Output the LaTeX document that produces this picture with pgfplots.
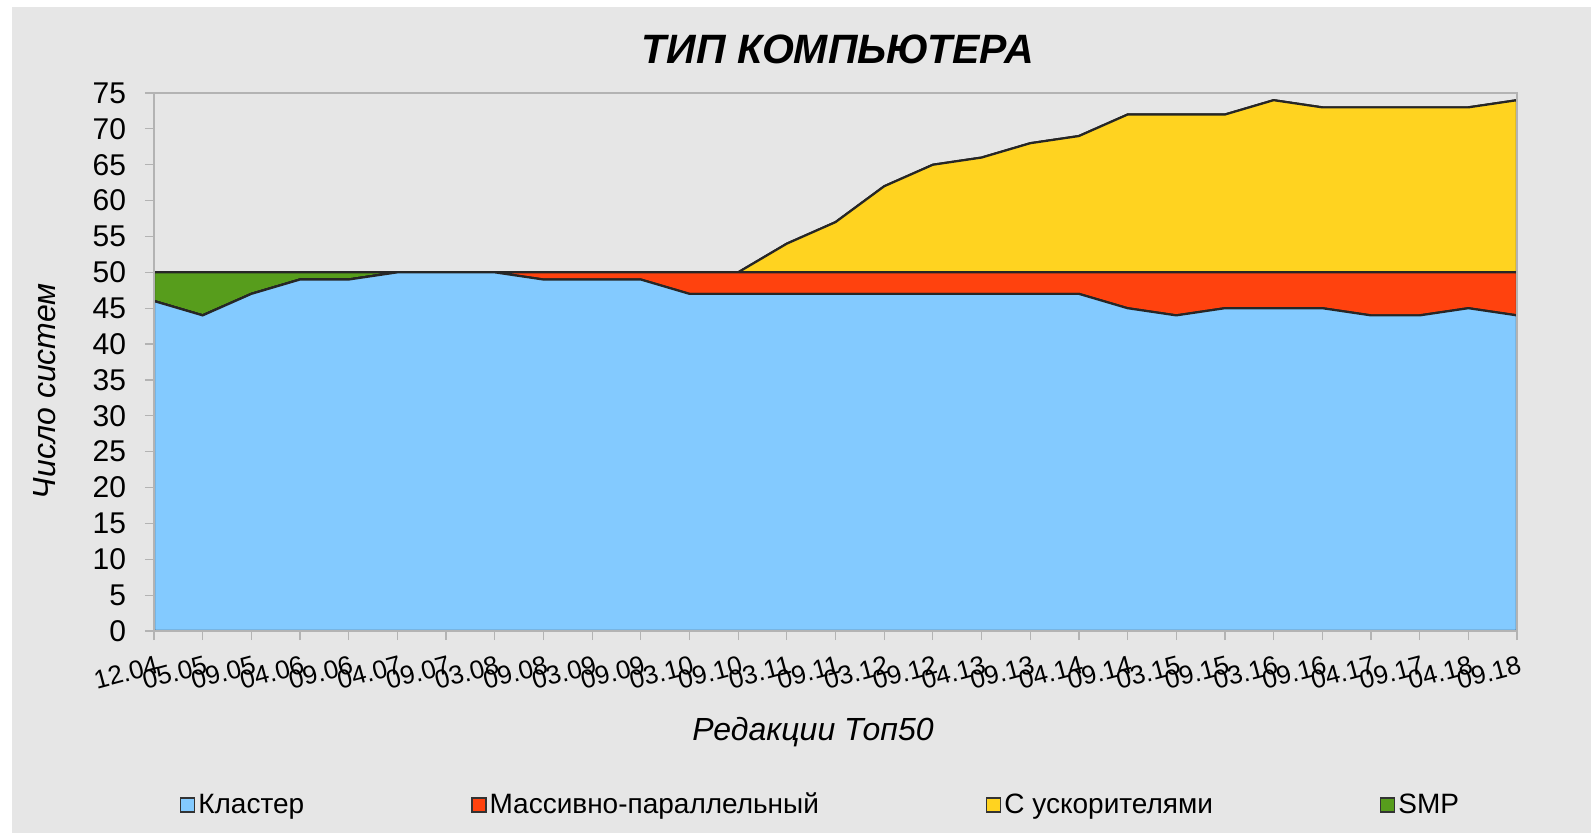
\documentclass[border=0pt]{standalone}
\usepackage{pgfplots}
\pgfplotsset{compat=1.18}
\usepackage{pgfplotstable}
\usepackage{fontspec}
\setmainfont{Liberation Sans}
\definecolor{cblue}{HTML}{83CAFF}
\definecolor{cred}{HTML}{FF420E}
\definecolor{cyel}{HTML}{FFD320}
\definecolor{cgreen}{HTML}{579D1C}
\definecolor{bg}{HTML}{E6E6E6}
\definecolor{axgray}{HTML}{B3B3B3}

\pgfplotstableread{
i blue red acc smp
0 46 0 0 4
1 44 0 0 6
2 47 0 0 3
3 49 0 0 1
4 49 0 0 1
5 50 0 0 0
6 50 0 0 0
7 50 0 0 0
8 49 1 0 0
9 49 1 0 0
10 49 1 0 0
11 47 3 0 0
12 47 3 0 0
13 47 3 4 0
14 47 3 7 0
15 47 3 12 0
16 47 3 15 0
17 47 3 16 0
18 47 3 18 0
19 47 3 19 0
20 45 5 22 0
21 44 6 22 0
22 45 5 22 0
23 45 5 24 0
24 45 5 23 0
25 44 6 23 0
26 44 6 23 0
27 45 5 23 0
28 44 6 24 0
}\data

\begin{document}
\begin{tikzpicture}
\path[use as bounding box, fill=white] (0,0) rectangle (795.5bp,416.5bp);
\fill[bg] (6bp,0) rectangle (795.5bp,413bp);
\begin{axis}[
  at={(77bp,101bp)}, anchor=south west,
  scale only axis, width=681.5bp, height=269bp,
  xmin=0, xmax=28, ymin=0, ymax=75,
  stack plots=y,
  axis on top,
  xtick={0,...,28},
  xticklabels={12.04,05.05,09.05,04.06,09.06,04.07,09.07,03.08,09.08,03.09,09.09,03.10,09.10,03.11,09.11,03.12,09.12,04.13,09.13,04.14,09.14,03.15,09.15,03.16,09.16,04.17,09.17,04.18,09.18},
  ytick={0,5,...,75},
  xtick pos=bottom, ytick pos=left,
  tick align=outside, major tick length=4.5bp,
  axis line style={axgray, line width=0.8bp},
  tick style={axgray, line width=0.6bp},
  /pgf/number format/assume math mode=true,
  yticklabel style={font=\fontsize{15bp}{18bp}\selectfont, anchor=east, xshift=-6bp},
  xticklabel style={font=\fontsize{13bp}{15bp}\selectfont, rotate=15, anchor=north east, xshift=2bp, yshift=-4bp},
  title={ТИП КОМПЬЮТЕРА},
  title style={font=\fontsize{20.5bp}{24bp}\selectfont\bfseries\itshape, at={(axis description cs:0.5018,1.058)}, anchor=center},
  xlabel={Редакции Топ50},
  xlabel style={font=\fontsize{16bp}{19bp}\selectfont\itshape, at={(axis description cs:0.4835,-0.1870)}, anchor=center},
  ylabel={Число систем},
  ylabel style={font=\fontsize{16bp}{19bp}\selectfont\itshape, at={(axis description cs:-0.0800,0.446)}, anchor=center, rotate=0},
  legend columns=4,
  legend image code/.code={\draw[#1, line width=0.7bp, draw=black!80] (0bp,-3.5bp) rectangle (7bp,3.5bp);},
  legend style={draw=none, fill=none, inner sep=0pt, outer sep=0pt,
    at={(axis description cs:0.01900,-0.3234)}, anchor=west,
    font=\fontsize{14bp}{16bp}\selectfont,
    nodes={inner sep=1.5bp},
    /tikz/every even column/.append style={column sep=82bp}},
]
\addplot[fill=cblue, draw=black!85, line width=1.1bp] table[x=i,y=blue]{\data} \closedcycle;
\addplot[fill=cred, draw=black!85, line width=1.1bp] table[x=i,y=red]{\data} \closedcycle;
\addplot[fill=cyel, draw=black!85, line width=1.1bp] table[x=i,y=acc]{\data} \closedcycle;
\addplot[fill=cgreen, draw=black!85, line width=1.1bp] table[x=i,y=smp]{\data} \closedcycle;
\legend{Кластер, Массивно-параллельный, С ускорителями, SMP}
\end{axis}
\end{tikzpicture}
\end{document}
